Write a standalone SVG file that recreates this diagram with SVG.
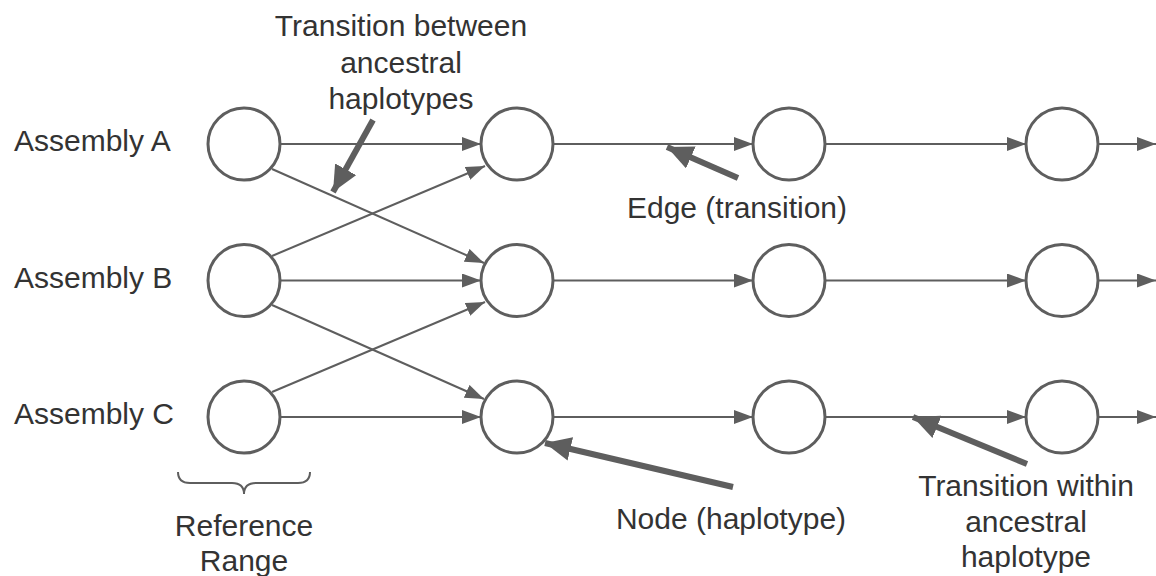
<svg xmlns="http://www.w3.org/2000/svg" width="1156" height="576" viewBox="0 0 1156 576">
<style>
.node{fill:#ffffff;stroke:#5e5e5e;stroke-width:3}
.edge{fill:none;stroke:#5e5e5e;stroke-width:2;marker-end:url(#ah)}
.call{fill:none;stroke:#5e5e5e;stroke-width:6;marker-end:url(#big)}
.lbl{font-family:"Liberation Sans",Arial,sans-serif;font-size:30px;fill:#333333}
.mid{text-anchor:middle}
</style>
<defs>
<marker id="ah" markerUnits="userSpaceOnUse" markerWidth="20" markerHeight="14" refX="19" refY="7" orient="auto">
<path d="M0,0 L19,7 L0,14 z" fill="#5e5e5e"/>
</marker>
<marker id="big" markerUnits="userSpaceOnUse" markerWidth="28" markerHeight="24" refX="26" refY="12" orient="auto">
<path d="M0,0 L26,12 L0,24 z" fill="#5e5e5e"/>
</marker>
</defs>
<rect width="1156" height="576" fill="#ffffff"/>
<g id="connectors">
<line class="edge" x1="280" y1="144" x2="481" y2="144"/>
<line class="edge" x1="553" y1="144" x2="753" y2="144"/>
<line class="edge" x1="825" y1="144" x2="1026" y2="144"/>
<line class="edge" x1="1098" y1="144" x2="1156" y2="144"/>
<line class="edge" x1="280" y1="280.5" x2="481" y2="280.5"/>
<line class="edge" x1="553" y1="280.5" x2="753" y2="280.5"/>
<line class="edge" x1="825" y1="280.5" x2="1026" y2="280.5"/>
<line class="edge" x1="1098" y1="280.5" x2="1156" y2="280.5"/>
<line class="edge" x1="280" y1="417" x2="481" y2="417"/>
<line class="edge" x1="553" y1="417" x2="753" y2="417"/>
<line class="edge" x1="825" y1="417" x2="1026" y2="417"/>
<line class="edge" x1="1098" y1="417" x2="1156" y2="417"/>
<line class="edge" x1="272" y1="169" x2="484" y2="263"/>
<line class="edge" x1="272" y1="256" x2="485" y2="166"/>
<line class="edge" x1="272" y1="305" x2="484" y2="399"/>
<line class="edge" x1="272" y1="392" x2="485" y2="302"/>
</g>
<g id="callouts">
<line class="call" x1="373" y1="120" x2="333" y2="192"/>
<line class="call" x1="738" y1="178" x2="667" y2="147"/>
<line class="call" x1="733" y1="487" x2="545" y2="443"/>
<line class="call" x1="1027" y1="464" x2="913" y2="417"/>
</g>
<g id="A1"><circle class="node" cx="244" cy="144" r="36"/></g>
<g id="A2"><circle class="node" cx="517" cy="144" r="36"/></g>
<g id="A3"><circle class="node" cx="789" cy="144" r="36"/></g>
<g id="A4"><circle class="node" cx="1062" cy="144" r="36"/></g>
<g id="B1"><circle class="node" cx="244" cy="280.5" r="36"/></g>
<g id="B2"><circle class="node" cx="517" cy="280.5" r="36"/></g>
<g id="B3"><circle class="node" cx="789" cy="280.5" r="36"/></g>
<g id="B4"><circle class="node" cx="1062" cy="280.5" r="36"/></g>
<g id="C1"><circle class="node" cx="244" cy="417" r="36"/></g>
<g id="C2"><circle class="node" cx="517" cy="417" r="36"/></g>
<g id="C3"><circle class="node" cx="789" cy="417" r="36"/></g>
<g id="C4"><circle class="node" cx="1062" cy="417" r="36"/></g>
<g id="brace"><path d="M178,472 Q178,483 190,483 L232,483 Q244,483 244,494 Q244,483 256,483 L298,483 Q310,483 310,472" fill="none" stroke="#5e5e5e" stroke-width="2"/></g>
<g id="labels">
<text class="lbl" x="14" y="151">Assembly A</text>
<text class="lbl" x="14" y="288">Assembly B</text>
<text class="lbl" x="14" y="424">Assembly C</text>
<text class="lbl mid" x="401" y="36">Transition between</text>
<text class="lbl mid" x="401" y="73">ancestral</text>
<text class="lbl mid" x="401" y="109">haplotypes</text>
<text class="lbl mid" x="737" y="218">Edge (transition)</text>
<text class="lbl mid" x="731" y="529">Node (haplotype)</text>
<text class="lbl mid" x="1026" y="496">Transition within</text>
<text class="lbl mid" x="1026" y="532">ancestral</text>
<text class="lbl mid" x="1026" y="567">haplotype</text>
<text class="lbl mid" x="244" y="536">Reference</text>
<text class="lbl mid" x="244" y="571">Range</text>
</g>
</svg>
